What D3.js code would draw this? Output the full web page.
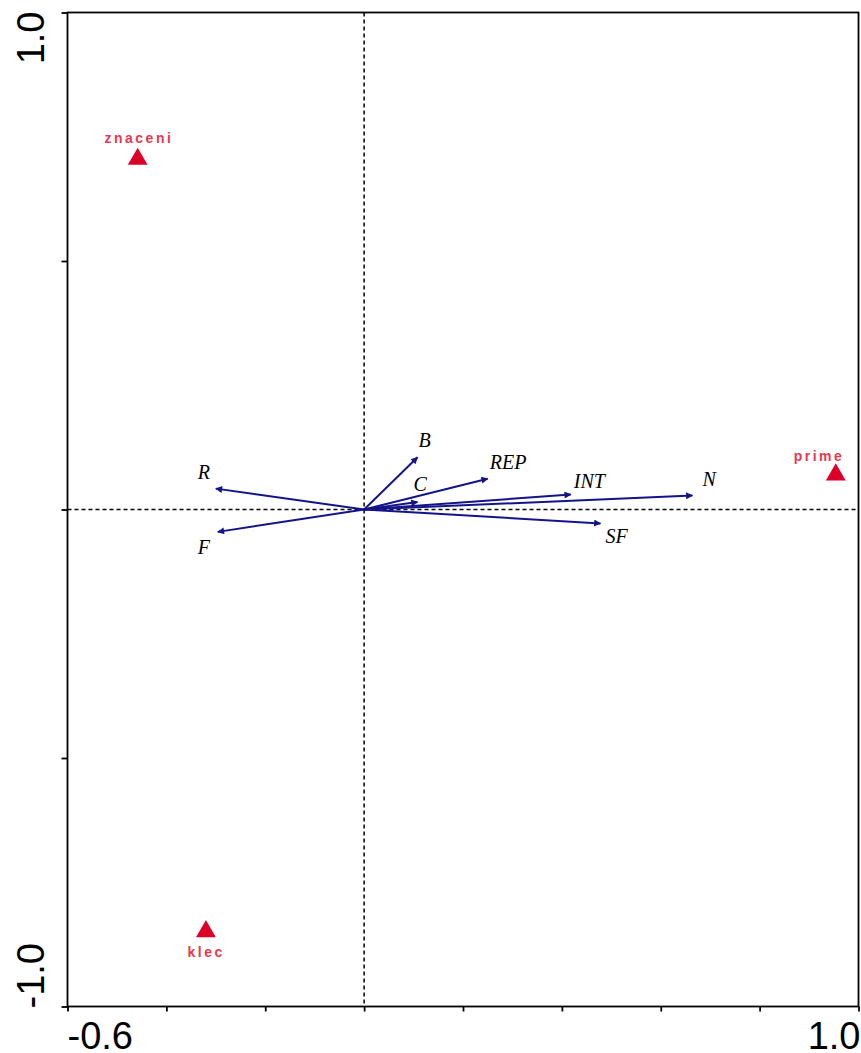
<!DOCTYPE html>
<html>
<head>
<meta charset="utf-8">
<script src="https://d3js.org/d3.v7.min.js"></script>
<style>
body { margin: 0; background: #fff; }
.axlab { font-family: Arial, "Liberation Sans", sans-serif; font-size: 38px; fill: #000; }
.env { font-family: "Liberation Serif", "Times New Roman", serif; font-style: italic; font-size: 20px; fill: #000; }
.samp { font-family: Arial, "Liberation Sans", sans-serif; font-weight: bold; font-size: 14px; letter-spacing: 2.5px; fill: #e8384f; }
</style>
</head>
<body>
<svg id="chart" width="861" height="1053"></svg>
<script>
// environmental variables (arrows)
const envNames = ["B", "REP", "C", "INT", "N", "SF", "R", "F"];
const envX = [0.108, 0.250, 0.108, 0.418, 0.664, 0.478, -0.300, -0.296];
const envY = [0.105, 0.062, 0.015, 0.030, 0.028, -0.028, 0.042, -0.045];

// samples (triangles)
const sampNames = ["znaceni", "prime", "klec"];
const sampX = [-0.458, 0.954, -0.320];
const sampY = [0.705, 0.070, -0.849];

// axis ticks
const xTicks = [-0.6, -0.4, -0.2, 0, 0.2, 0.4, 0.6, 0.8, 1.0];
const yTicks = [-1.0, -0.5, 0, 0.5, 1.0];

// label offsets in pixels (layout only)
const envOff = {B: [1, -10], REP: [2, -10], C: [-4, -11], INT: [3, -7], N: [10, -10], SF: [5, 20], R: [-18, -10], F: [-20, 22]};
const sampOff = {znaceni: [0, -16], prime: [-18, -14], klec: [-1, 26]};

const svg = d3.select("#chart");
const pLeft = 67.5, pRight = 858.5, pTop = 12.5, pBottom = 1006.5;

const x = d3.scaleLinear().domain([-0.6, 1.0]).range([pLeft, pRight]);
const y = d3.scaleLinear().domain([-1.0, 1.0]).range([pBottom, pTop]);

// dashed zero lines
svg.append("line")
  .attr("x1", x(0)).attr("x2", x(0)).attr("y1", pTop).attr("y2", pBottom)
  .attr("stroke", "#000").attr("stroke-width", 1.5).attr("stroke-dasharray", "4,3");
svg.append("line")
  .attr("x1", pLeft).attr("x2", pRight).attr("y1", y(0)).attr("y2", y(0))
  .attr("stroke", "#000").attr("stroke-width", 1.5).attr("stroke-dasharray", "4,3");

// frame
svg.append("rect")
  .attr("x", pLeft).attr("y", pTop)
  .attr("width", pRight - pLeft).attr("height", pBottom - pTop)
  .attr("fill", "none").attr("stroke", "#000").attr("stroke-width", 1.8);

// axes (ticks only, labels added separately)
svg.append("g")
  .attr("transform", "translate(0," + pBottom + ")")
  .call(d3.axisBottom(x).tickValues(xTicks).tickSize(5).tickFormat(""))
  .call(g => g.select(".domain").remove())
  .call(g => g.selectAll("line").attr("stroke-width", 1.8));

svg.append("g")
  .attr("transform", "translate(" + pLeft + ",0)")
  .call(d3.axisLeft(y).tickValues(yTicks).tickSize(6).tickFormat(""))
  .call(g => g.select(".domain").remove())
  .call(g => g.selectAll("line").attr("stroke-width", 1.8));

// extreme tick labels
svg.append("text").attr("class", "axlab")
  .attr("x", pLeft).attr("y", 1049).attr("text-anchor", "start").text("-0.6");
svg.append("text").attr("class", "axlab")
  .attr("x", pRight + 2).attr("y", 1049).attr("text-anchor", "end").text("1.0");
svg.append("text").attr("class", "axlab")
  .attr("transform", "translate(44," + (pTop - 1) + ") rotate(-90)")
  .attr("text-anchor", "end").text("1.0");
svg.append("text").attr("class", "axlab")
  .attr("transform", "translate(44," + (pBottom + 2) + ") rotate(-90)")
  .attr("text-anchor", "start").text("-1.0");

// arrow marker
svg.append("defs").append("marker")
  .attr("id", "head")
  .attr("viewBox", "0 -5 10 10")
  .attr("refX", 9).attr("refY", 0)
  .attr("markerWidth", 10).attr("markerHeight", 7)
  .attr("markerUnits", "userSpaceOnUse")
  .attr("orient", "auto")
  .append("path").attr("d", "M0,-5L10,0L0,5Z").attr("fill", "#14148a");

const env = envNames.map((n, i) => ({name: n, x: envX[i], y: envY[i]}));

svg.append("g").selectAll("line")
  .data(env).enter().append("line")
  .attr("x1", x(0)).attr("y1", y(0))
  .attr("x2", d => x(d.x)).attr("y2", d => y(d.y))
  .attr("stroke", "#14148a").attr("stroke-width", 2)
  .attr("marker-end", "url(#head)");

svg.append("g").selectAll("text")
  .data(env).enter().append("text")
  .attr("class", "env")
  .attr("x", d => x(d.x) + envOff[d.name][0])
  .attr("y", d => y(d.y) + envOff[d.name][1])
  .text(d => d.name);

// samples
const samp = sampNames.map((n, i) => ({name: n, x: sampX[i], y: sampY[i]}));

svg.append("g").selectAll("path")
  .data(samp).enter().append("path")
  .attr("transform", d => "translate(" + x(d.x) + "," + y(d.y) + ")")
  .attr("d", d3.symbol().type(d3.symbolTriangle).size(170))
  .attr("fill", "#dc0028");

svg.append("g").selectAll("text")
  .data(samp).enter().append("text")
  .attr("class", "samp")
  .attr("text-anchor", "middle")
  .attr("x", d => x(d.x) + sampOff[d.name][0] + 1.2)
  .attr("y", d => y(d.y) + sampOff[d.name][1])
  .text(d => d.name);
</script>
</body>
</html>
